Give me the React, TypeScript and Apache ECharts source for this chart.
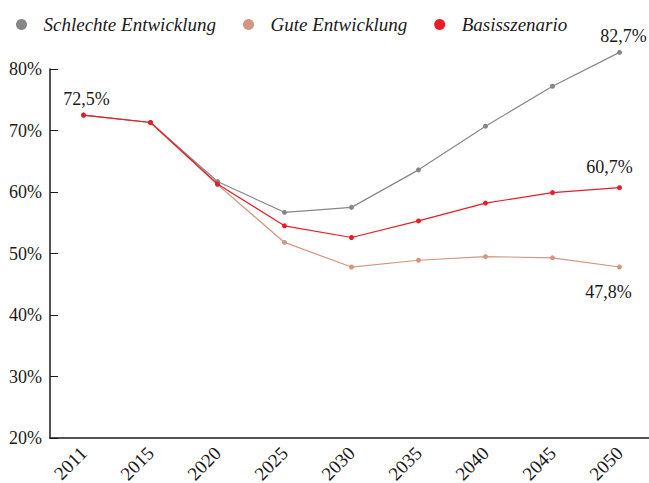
import React, { useEffect, useRef } from "react";
import * as echarts from "echarts";

const years = ["2011", "2015", "2020", "2025", "2030", "2035", "2040", "2045", "2050"];
const schlecht = [72.5, 71.3, 61.7, 56.7, 57.5, 63.6, 70.7, 77.2, 82.7];
const gut = [72.5, 71.3, 61.2, 51.8, 47.8, 48.9, 49.5, 49.3, 47.8];
const basis = [72.5, 71.3, 61.3, 54.5, 52.6, 55.3, 58.2, 59.9, 60.7];
const seriesNames = ["Schlechte Entwicklung", "Gute Entwicklung", "Basisszenario"];
const colors = ["#87878a", "#d3967f", "#ea1c26"];

const FONT = "Liberation Serif";

const fmt = (v: number) => v.toFixed(1).replace(".", ",") + "%";

export default function App() {
  const ref = useRef<HTMLDivElement>(null);
  useEffect(() => {
    const chart = echarts.init(ref.current!, null, { renderer: "svg" });
    const labelStyle = { fontFamily: FONT, fontSize: 18, color: "#1a1a1a" };
    const withLabels = (data: number[], labels: Record<number, any>) =>
      data.map((v, i) =>
        labels[i]
          ? { value: v, label: { show: true, formatter: fmt(v), ...labelStyle, ...labels[i] } }
          : v
      );
    const mk = (name: string, color: string, data: any[], z: number) => ({
      name,
      type: "line",
      data,
      clip: false,
      z,
      symbol: "circle",
      symbolSize: 5,
      itemStyle: { color },
      lineStyle: { color, width: 1.2 },
    });
    chart.setOption({
      animation: false,
      textStyle: { fontFamily: FONT },
      legend: {
        top: 10,
        left: 11,
        icon: "circle",
        itemWidth: 34,
        itemHeight: 11,
        itemGap: 27,
        symbolKeepAspect: true,
        textStyle: { fontFamily: FONT, fontStyle: "italic", fontSize: 19, color: "#1a1a1a" },
        data: seriesNames,
      },
      grid: { left: 50, right: -4, top: 69, bottom: 45, outerBoundsMode: "none" },
      xAxis: {
        type: "category",
        data: years,
        boundaryGap: true,
        axisLine: { lineStyle: { color: "#1a1a1a", width: 1.5 } },
        axisTick: { show: false },
        axisLabel: { rotate: 45, margin: 12, fontFamily: FONT, fontSize: 19, color: "#1a1a1a" },
      },
      yAxis: {
        type: "value",
        min: 20,
        max: 80,
        interval: 10,
        splitLine: { show: false },
        axisLine: { show: true, lineStyle: { color: "#1a1a1a", width: 1.5 } },
        axisTick: { show: true, inside: true, length: 8, lineStyle: { color: "#1a1a1a" } },
        axisLabel: { formatter: "{value}%", margin: 8, fontFamily: FONT, fontSize: 18, color: "#1a1a1a" },
      },
      series: [
        mk(seriesNames[0], colors[0], withLabels(schlecht, { 8: { position: "top", offset: [4, 0] } }), 2),
        mk(seriesNames[1], colors[1], withLabels(gut, { 8: { position: "bottom", offset: [-11, 8] } }), 3),
        mk(
          seriesNames[2],
          colors[2],
          withLabels(basis, {
            0: { position: "top", offset: [3, 0] },
            8: { position: "top", offset: [-10, -4] },
          }),
          4
        ),
      ],
    });
    return () => chart.dispose();
  }, []);
  return (
    <div
      ref={ref}
      style={{ position: "fixed", left: 0, top: 0, width: 649, height: 483, background: "#fff" }}
    />
  );
}
